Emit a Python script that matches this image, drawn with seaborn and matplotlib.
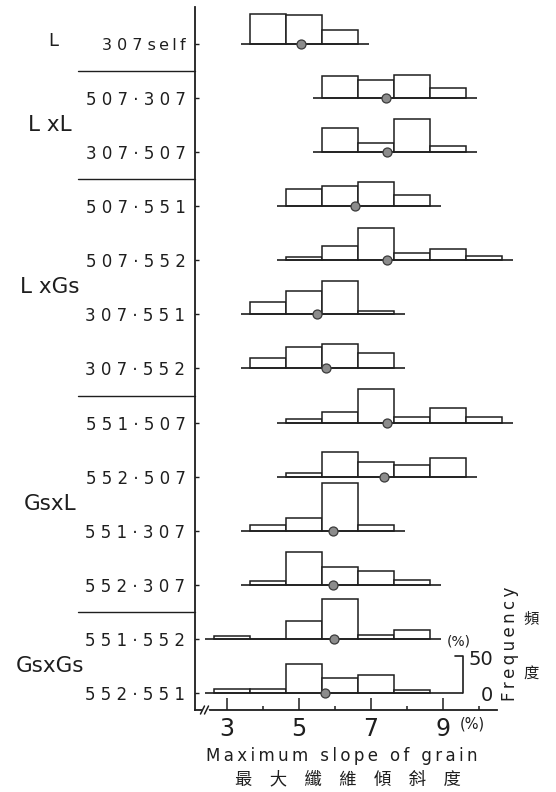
import matplotlib
matplotlib.use("Agg")
import numpy as np
import matplotlib.pyplot as plt
import seaborn as sns

# crosses (female · male), top to bottom
crosses = ["307self", "507·307", "307·507", "507·551", "507·552", "307·551",
           "307·552", "551·507", "552·507", "551·307", "552·307", "551·552",
           "552·551"]
group_names = ["L", "L xL", "L xGs", "GsxL", "GsxGs"]
group_sizes = [1, 2, 4, 4, 2]

# lower boundary of the first 1 %-wide slope class of each cross
first_class = [3.65, 5.65, 5.65, 4.65, 4.65, 3.65, 3.65,
               4.65, 4.65, 3.65, 3.65, 2.65, 2.65]
# frequency (%) of each slope class
freq = [
    [41, 40, 19],
    [30, 25, 31, 14],
    [33, 13, 46, 8],
    [23, 28, 33, 16],
    [5, 20, 44, 10, 15, 6],
    [17, 32, 46, 5],
    [15, 30, 34, 21],
    [5, 15, 46, 7, 20, 7],
    [5, 34, 20, 16, 25],
    [8, 18, 66, 8],
    [5, 45, 25, 19, 6],
    [4, 0, 24, 55, 5, 12],
    [6, 5, 40, 20, 25, 4],
]
# mean maximum slope of grain (%)
mean_slope = [5.06, 7.43, 7.44, 6.56, 7.44, 5.51, 5.76,
              7.46, 7.37, 5.95, 5.94, 5.98, 5.74]

x_major = [3, 5, 7, 9]
x_minor = [4, 6, 8, 10]
class_width = 1.0
scale_pct = 50
scale_x = 9.55

# ---- layout (pixels of a 556 x 792 canvas) ----
W, H = 556, 792
AX_L, AX_R, AX_T, AX_B = 194.5, 530.0, 7.0, 710.0
PX_UNIT = 36.0      # px per 1 % of slope
PX_PCT = 0.73       # px per 1 % of frequency
ROW_PX = 54.08
FIRST_ROW_PX = 44.0
X3_PX = 226.7

xmin = 3 - (X3_PX - AX_L) / PX_UNIT
xmax = xmin + (AX_R - AX_L) / PX_UNIT
ytop = (FIRST_ROW_PX - AX_T) / PX_PCT
ybot = -(AX_B - FIRST_ROW_PX) / PX_PCT
row_step = ROW_PX / PX_PCT
bases = -row_step * np.arange(len(crosses))

INK = "#1e1e1e"
LATIN = ["DejaVu Sans"]
CJK = ["Noto Sans CJK TC", "DejaVu Sans"]
THIN = "\u2009"


def fx(px):
    return px / W


def fy(px):
    return 1 - px / H


def cross_label(name):
    if name.endswith("self"):
        return " ".join(name[:3]) + " " + THIN.join(name[3:])
    return " ".join(name)


sns.set_theme(style="ticks")
plt.rcParams["font.family"] = LATIN

fig = plt.figure(figsize=(W / 100, H / 100), dpi=100)
ax = fig.add_axes([fx(AX_L), fy(AX_B), (AX_R - AX_L) / W, (AX_B - AX_T) / H])
ax.set_xlim(xmin, xmax)
ax.set_ylim(ybot, ytop)

# histograms, one per cross, stacked on their own baselines
for i, (lo, f) in enumerate(zip(first_class, freq)):
    base = bases[i]
    lefts = lo + class_width * np.arange(len(f))
    ax.bar(lefts, f, width=class_width, bottom=base, align="edge",
           facecolor="white", edgecolor=INK, linewidth=1.1, zorder=2)
    hi = lo + class_width * len(f)
    right = scale_x if i == len(crosses) - 1 else hi + 0.3
    ax.plot([lo - 0.25, right], [base, base], color=INK, lw=1.2,
            zorder=3, solid_capstyle="butt")

# frequency scale bar on the last baseline
b_last = bases[-1]
ax.plot([scale_x - 0.2, scale_x, scale_x],
        [b_last + scale_pct, b_last + scale_pct, b_last],
        color=INK, lw=1.2, zorder=3, clip_on=False)
ax.text(scale_x + 0.5, b_last + scale_pct - 4, "50", fontsize=14,
        ha="center", va="center", color=INK)
ax.text(scale_x + 0.68, b_last - 3, "0", fontsize=14,
        ha="center", va="center", color=INK)
ax.text(scale_x - 0.1, b_last + 71, "(%)", fontsize=10,
        ha="center", va="center", color=INK)

# class means
sns.scatterplot(x=mean_slope, y=bases, ax=ax, s=42, color="#8c8c8c",
                edgecolor="#3a3a3a", linewidth=0.9, zorder=5, legend=False)

# cross labels on the vertical axis
ax.set_yticks(bases)
ax.set_yticklabels([cross_label(c) for c in crosses])
for k, t in enumerate(ax.get_yticklabels()):
    t.set_fontsize(11.5 if k == 0 else 12)
    t.set_color(INK)
ax.tick_params(axis="y", direction="in", length=3, width=1, pad=6.5,
               colors=INK, left=True)

# slope axis
ax.set_xticks(x_major)
ax.set_xticklabels([str(v) for v in x_major])
ax.set_xticks(x_minor, minor=True)
ax.tick_params(axis="x", which="major", direction="in", length=8.6,
               width=1.1, pad=5, labelsize=17, colors=INK, bottom=True)
ax.tick_params(axis="x", which="minor", direction="in", length=2.9,
               width=1.1, colors=INK, bottom=True)

sns.despine(ax=ax, top=True, right=True)
for side in ("left", "bottom"):
    ax.spines[side].set_color(INK)
    ax.spines[side].set_linewidth(1.3)
ax.spines["bottom"].set_bounds(xmin, 10.5)

# axis break on the slope axis
xt = ax.get_xaxis_transform()
bx1 = xmin + 8 / PX_UNIT
bx2 = xmin + 12 / PX_UNIT
dx, dy = 2 / PX_UNIT, 4 / (AX_B - AX_T)
ax.plot([bx1, bx2], [0, 0], color="white", lw=2.5, transform=xt,
        clip_on=False, zorder=6)
for bx in (bx1, bx2):
    ax.plot([bx - dx, bx + dx], [-dy, dy], color=INK, lw=1.1,
            transform=xt, clip_on=False, zorder=7)
ax.text(9.81, -0.02, "(%)", transform=xt, fontsize=10.5, ha="center",
        va="center", color=INK)

# group separators and group names
yt = ax.get_yaxis_transform()
sep_x0 = (78 - AX_L) / (AX_R - AX_L)
name_x = (50 - AX_L) / (AX_R - AX_L)
start = 0
for g, (name, n) in enumerate(zip(group_names, group_sizes)):
    mid = (bases[start] + bases[start + n - 1]) / 2
    single = n == 1
    ax.text(name_x + (0.01 if single else 0), mid + (4 if single else 0),
            name, transform=yt, fontsize=13 if single else 15.5,
            ha="center", va="center", color=INK)
    start += n
    if start < len(crosses):
        ysep = bases[start - 1] - row_step / 2
        ax.plot([sep_x0, 0], [ysep, ysep], color=INK, lw=1.0,
                transform=yt, clip_on=False)

# axis titles
fig.text(fx(342), fy(761), THIN.join("Maximum slope of grain"),
         fontsize=12, ha="center", va="baseline", color=INK)
fig.text(fx(348), fy(779), "\u3000".join("最大纖維傾斜度"),
         fontsize=12.5, ha="center", va="center", color=INK, family=CJK)
fig.text(fx(510), fy(644), THIN.join("Frequency"), rotation=90,
         fontsize=12, ha="center", va="center", color=INK)
fig.text(fx(531), fy(619), "頻", fontsize=11, ha="center", va="center",
         color=INK, family=CJK)
fig.text(fx(531), fy(673), "度", fontsize=11, ha="center", va="center",
         color=INK, family=CJK)

fig.savefig("out.png", dpi=100, facecolor="white")
